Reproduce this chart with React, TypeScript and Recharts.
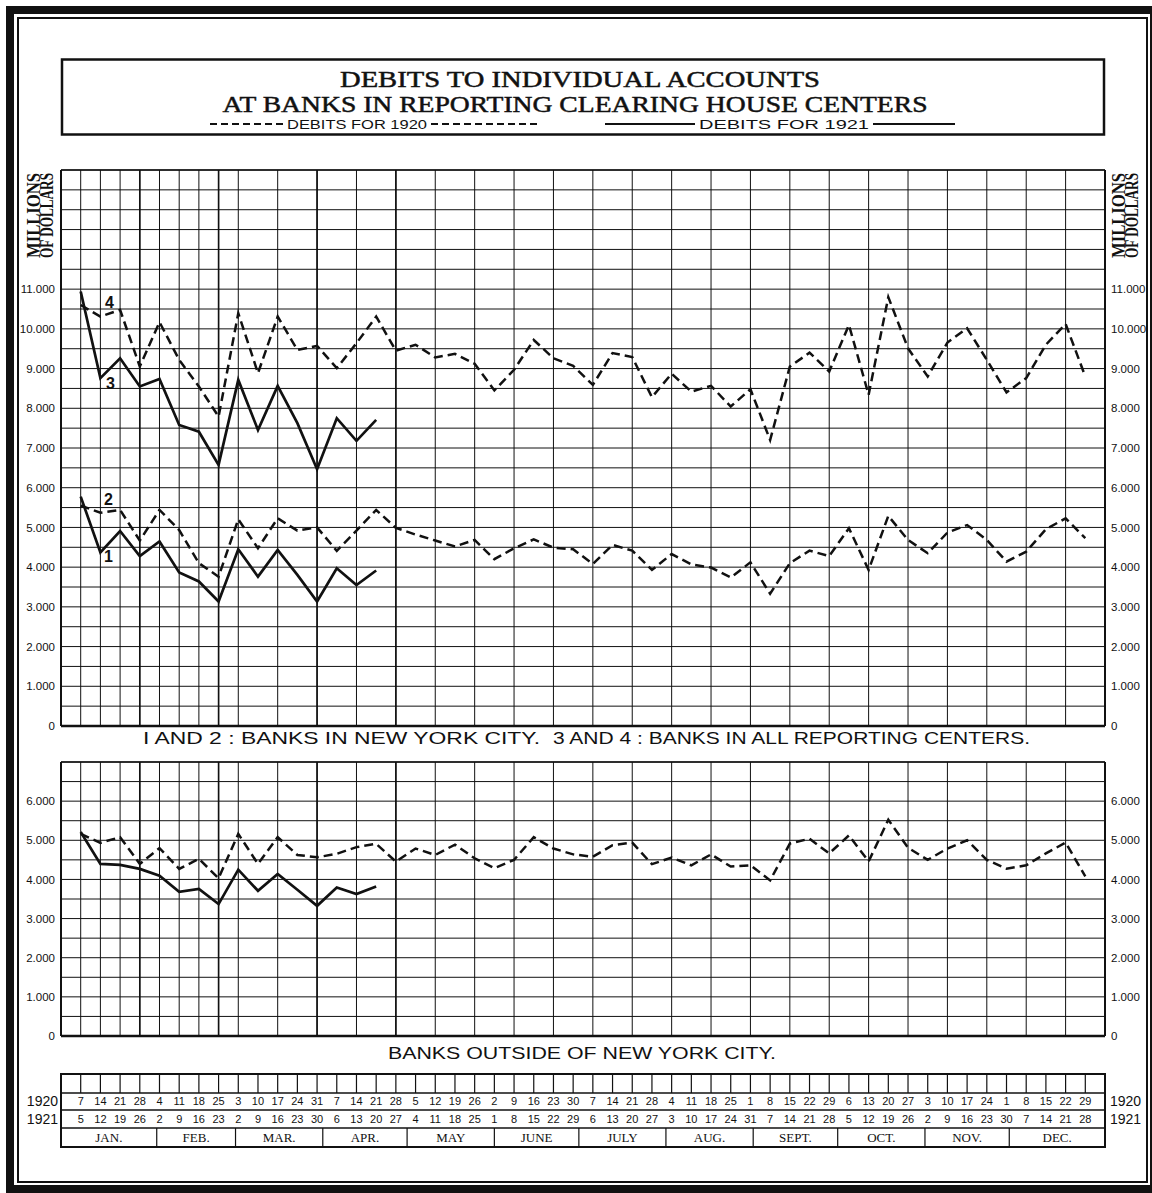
import React from "react";
import { LineChart, Line, XAxis, YAxis, CartesianGrid, ReferenceLine } from "recharts";

// week slots along the x axis (slot 1 = first week of January)
const weeks = [
  1, 2, 3, 4, 5, 6, 7, 8, 9, 10, 11, 12, 13, 14, 15, 16, 17, 18, 19, 20, 21, 22, 23, 24, 25, 26,
  27, 28, 29, 30, 31, 32, 33, 34, 35, 36, 37, 38, 39, 40, 41, 42, 43, 44, 45, 46, 47, 48, 49, 50, 51, 52,
];

const dates1920 = [
  7, 14, 21, 28, 4, 11, 18, 25, 3, 10, 17, 24, 31, 7, 14, 21, 28, 5, 12, 19, 26, 2, 9, 16, 23, 30,
  7, 14, 21, 28, 4, 11, 18, 25, 1, 8, 15, 22, 29, 6, 13, 20, 27, 3, 10, 17, 24, 1, 8, 15, 22, 29,
];
const dates1921 = [
  5, 12, 19, 26, 2, 9, 16, 23, 2, 9, 16, 23, 30, 6, 13, 20, 27, 4, 11, 18, 25, 1, 8, 15, 22, 29,
  6, 13, 20, 27, 3, 10, 17, 24, 31, 7, 14, 21, 28, 5, 12, 19, 26, 2, 9, 16, 23, 30, 7, 14, 21, 28,
];
const months = ["JAN.", "FEB.", "MAR.", "APR.", "MAY", "JUNE", "JULY", "AUG.", "SEPT.", "OCT.", "NOV.", "DEC."];

// debits, millions of dollars
// 4: all reporting centers 1920 / 3: all reporting centers 1921
const allCenters1920 = [
  10600, 10310, 10480, 9050, 10170, 9220, 8550, 7790, 10395, 8885, 10310, 9470, 9570, 9010, 9640, 10310,
  9450, 9600, 9280, 9370, 9120, 8450, 8970, 9720, 9260, 9070, 8590, 9390, 9290, 8280, 8870, 8420,
  8565, 8045, 8480, 7200, 9050, 9400, 8925, 10100, 8340, 10800, 9510, 8800, 9655, 10015, 9220, 8400,
  8760, 9600, 10125, 8800,
];
const allCenters1921 = [
  10940, 8760, 9260, 8550, 8740, 7580, 7410, 6575, 8715, 7455, 8565, 7625, 6465, 7750, 7180, 7710,
];
// 2: New York City 1920 / 1: New York City 1921
const newYork1920 = [
  5550, 5370, 5440, 4670, 5440, 4935, 4100, 3760, 5205, 4475, 5230, 4920, 5000, 4410, 4920, 5440,
  4990, 4820, 4670, 4520, 4685, 4200, 4475, 4700, 4490, 4450, 4080, 4560, 4415, 3930, 4330, 4070,
  3990, 3740, 4120, 3330, 4100, 4415, 4280, 4980, 3930, 5290, 4685, 4350, 4870, 5060, 4685, 4140,
  4390, 4955, 5230, 4730,
];
const newYork1921 = [
  5775, 4370, 4910, 4280, 4645, 3865, 3640, 3135, 4450, 3760, 4435, 3805, 3135, 3970, 3550, 3915,
];
// banks outside of New York City
const outside1920 = [
  5165, 4935, 5080, 4395, 4800, 4270, 4525, 4030, 5165, 4395, 5080, 4625, 4565, 4655, 4825, 4910,
  4455, 4790, 4625, 4890, 4540, 4290, 4500, 5080, 4790, 4640, 4580, 4875, 4940, 4390, 4560, 4360,
  4640, 4330, 4360, 3975, 4915, 5040, 4665, 5125, 4460, 5525, 4810, 4500, 4790, 5000, 4500, 4275,
  4360, 4665, 4940, 4080,
];
const outside1921 = [
  5210, 4395, 4370, 4270, 4095, 3685, 3755, 3370, 4250, 3710, 4140, 3735, 3325, 3795, 3625, 3820,
];

const upperLabelValues = [0, 1000, 2000, 3000, 4000, 5000, 6000, 7000, 8000, 9000, 10000, 11000];
const upperLabelText = ["0", "1.000", "2.000", "3.000", "4.000", "5.000", "6.000", "7.000", "8.000", "9.000", "10.000", "11.000"];
const lowerLabelValues = [0, 1000, 2000, 3000, 4000, 5000, 6000];
const lowerLabelText = ["0", "1.000", "2.000", "3.000", "4.000", "5.000", "6.000"];

// ---- layout / style ----
const INK = "#111";
const SANS = "'Liberation Sans', Arial, sans-serif";
const SERIF = "'Liberation Serif', 'Times New Roman', serif";

const gridWeeks = Array.from({ length: 54 }, (_, i) => i);
const upperGrid = Array.from({ length: 29 }, (_, i) => i * 500);
const lowerGrid = Array.from({ length: 15 }, (_, i) => i * 500);
const heavyWeeks = [4, 8, 13, 17];
// month borders in the calendar strip, in week slots
const monthEdges = [0, 4.86, 8.86, 13.29, 17.57, 22, 26.29, 30.71, 35.14, 39.43, 43.86, 48.14, 53];
const monthMids = months.map((_, i) => (monthEdges[i] + monthEdges[i + 1]) / 2);
const tableTicks = Array.from(new Set([...weeks, ...monthEdges, ...monthMids])).sort((a, b) => a - b);

const upperLabels = new Map(upperLabelValues.map((v, i) => [v, upperLabelText[i]]));
const lowerLabels = new Map(lowerLabelValues.map((v, i) => [v, lowerLabelText[i]]));

const upperData = weeks.map((w, i) => ({
  week: w,
  all1920: allCenters1920[i],
  all1921: allCenters1921[i],
  ny1920: newYork1920[i],
  ny1921: newYork1921[i],
}));
const lowerData = weeks.map((w, i) => ({
  week: w,
  out1920: outside1920[i],
  out1921: outside1921[i],
}));

const YTick = ({ x, y, payload, labels, anchor }: any) => {
  const text = labels.get(payload.value);
  if (text === undefined) return <g />;
  return (
    <text x={x} y={y} dy="0.36em" textAnchor={anchor} fontFamily={SANS} fontSize={11.5} fill={INK}>
      {text}
    </text>
  );
};

const TableTick = ({ x, y, payload }: any) => {
  const v = payload.value;
  const parts: React.ReactNode[] = [];
  const wi = weeks.indexOf(v);
  if (wi >= 0) {
    parts.push(<line key="d" x1={x} x2={x} y1={y + 38} y2={y + 57} stroke={INK} strokeWidth={1.2} />);
    parts.push(
      <text key="a" x={x} y={y + 69} textAnchor="middle" fontFamily={SANS} fontSize={11} fill={INK}>
        {dates1920[wi]}
      </text>
    );
    parts.push(
      <text key="b" x={x} y={y + 87} textAnchor="middle" fontFamily={SANS} fontSize={11} fill={INK}>
        {dates1921[wi]}
      </text>
    );
  }
  const ei = monthEdges.indexOf(v);
  if (ei > 0 && ei < monthEdges.length - 1) {
    parts.push(<line key="e" x1={x} x2={x} y1={y + 92} y2={y + 111} stroke={INK} strokeWidth={1.2} />);
  }
  const mi = monthMids.indexOf(v);
  if (mi >= 0) {
    parts.push(
      <text key="m" x={x} y={y + 106} textAnchor="middle" fontFamily={SERIF} fontSize={13} fill={INK}>
        {months[mi]}
      </text>
    );
  }
  return <g>{parts}</g>;
};

const tagDot = (tag: string, dx: number, dy: number) => (p: any) => {
  if (p.index !== 1) return <g key={`${tag}-${p.index}`} />;
  return (
    <text
      key={`${tag}-${p.index}`}
      x={p.cx + dx}
      y={p.cy + dy}
      textAnchor="middle"
      fontFamily={SANS}
      fontWeight="bold"
      fontSize={16}
      fill={INK}
    >
      {tag}
    </text>
  );
};

const frameLines = (top: number) => [
  <ReferenceLine key="l" xAxisId="g" yAxisId="l" x={0} stroke={INK} strokeWidth={2} />,
  <ReferenceLine key="r" xAxisId="g" yAxisId="l" x={53} stroke={INK} strokeWidth={2} />,
  <ReferenceLine key="b" xAxisId="g" yAxisId="l" y={0} stroke={INK} strokeWidth={2.5} />,
  <ReferenceLine key="t" xAxisId="g" yAxisId="l" y={top} stroke={INK} strokeWidth={1.5} />,
  ...heavyWeeks.map((w) => (
    <ReferenceLine key={`m${w}`} xAxisId="g" yAxisId="l" x={w} stroke={INK} strokeWidth={1.6} />
  )),
];

const dashedLine = { stroke: INK, strokeWidth: 2.5, strokeDasharray: "9 5" };
const solidLine = { stroke: INK, strokeWidth: 2.7 };

const Overlay = () => (
  <svg width={1152} height={1193} style={{ position: "absolute", left: 0, top: 0 }}>
    <rect x={10} y={10} width={1144} height={1179} fill="none" stroke={INK} strokeWidth={8} />
    <rect x={18} y={18} width={1129} height={1164} fill="none" stroke={INK} strokeWidth={2} />

    <rect x={62} y={59.5} width={1042} height={75} fill="none" stroke={INK} strokeWidth={2.5} />
    <text x={580} y={87} textAnchor="middle" fontFamily={SERIF} fontSize={24} stroke={INK} strokeWidth={0.5} textLength={480} lengthAdjust="spacingAndGlyphs" fill={INK}>
      DEBITS TO INDIVIDUAL ACCOUNTS
    </text>
    <text x={575} y={112} textAnchor="middle" fontFamily={SERIF} fontSize={24} stroke={INK} strokeWidth={0.5} textLength={705} lengthAdjust="spacingAndGlyphs" fill={INK}>
      AT BANKS IN REPORTING CLEARING HOUSE CENTERS
    </text>
    <line x1={210} x2={283} y1={124} y2={124} stroke={INK} strokeWidth={2} strokeDasharray="7 4" />
    <text x={287} y={129} fontFamily={SANS} fontSize={12.5} textLength={140} lengthAdjust="spacingAndGlyphs" fill={INK}>
      DEBITS FOR 1920
    </text>
    <line x1={431} x2={540} y1={124} y2={124} stroke={INK} strokeWidth={2} strokeDasharray="7 4" />
    <line x1={605} x2={695} y1={124} y2={124} stroke={INK} strokeWidth={2} />
    <text x={699} y={129} fontFamily={SANS} fontSize={12.5} textLength={170} lengthAdjust="spacingAndGlyphs" fill={INK}>
      DEBITS FOR 1921
    </text>
    <line x1={873} x2={955} y1={124} y2={124} stroke={INK} strokeWidth={2} />

    {[
      [40, "MILLIONS"],
      [53, "OF DOLLARS"],
      [1125, "MILLIONS"],
      [1138, "OF DOLLARS"],
    ].map(([x, t]) => (
      <text
        key={`${x}`}
        transform={`translate(${x},215.5) rotate(-90)`}
        textAnchor="middle"
        fontFamily={SERIF}
        fontWeight="bold"
        fontSize={18}
        textLength={85}
        lengthAdjust="spacingAndGlyphs"
        fill={INK}
      >
        {t}
      </text>
    ))}

    <text x={143} y={744} fontFamily={SANS} fontSize={17} textLength={397} lengthAdjust="spacingAndGlyphs" fill={INK}>
      I AND 2 : BANKS IN NEW YORK CITY.
    </text>
    <text x={553} y={744} fontFamily={SANS} fontSize={17} textLength={477} lengthAdjust="spacingAndGlyphs" fill={INK}>
      3 AND 4 : BANKS IN ALL REPORTING CENTERS.
    </text>
    <text x={388} y={1059} fontFamily={SANS} fontSize={17} textLength={388} lengthAdjust="spacingAndGlyphs" fill={INK}>
      BANKS OUTSIDE OF NEW YORK CITY.
    </text>

    <rect x={61} y={1074} width={1044} height={73} fill="none" stroke={INK} strokeWidth={2} />
    {[1093, 1110, 1128].map((y) => (
      <line key={y} x1={61} x2={1105} y1={y} y2={y} stroke={INK} strokeWidth={1.3} />
    ))}
    <text x={58} y={1106} textAnchor="end" fontFamily={SANS} fontSize={14} fill={INK}>1920</text>
    <text x={58} y={1124} textAnchor="end" fontFamily={SANS} fontSize={14} fill={INK}>1921</text>
    <text x={1110} y={1106} fontFamily={SANS} fontSize={14} fill={INK}>1920</text>
    <text x={1110} y={1124} fontFamily={SANS} fontSize={14} fill={INK}>1921</text>
  </svg>
);

export default function App() {
  return (
    <div style={{ position: "absolute", left: 0, top: 0, width: 1152, height: 1193, background: "#fff", overflow: "hidden" }}>
      <Overlay />

      <div style={{ position: "absolute", left: 0, top: 150 }}>
        <LineChart width={1152} height={590} data={upperData} margin={{ top: 20, right: 0, bottom: 14, left: 0 }}>
          <XAxis xAxisId="g" type="number" dataKey="week" domain={[0, 53]} ticks={gridWeeks} allowDataOverflow hide height={0} />
          <YAxis
            yAxisId="l"
            width={61}
            domain={[0, 14000]}
            ticks={upperGrid}
            interval={0}
            allowDataOverflow
            axisLine={false}
            tickLine={false}
            tickSize={0}
            tickMargin={6}
            tick={(p: any) => <YTick {...p} labels={upperLabels} anchor="end" />}
          />
          <YAxis
            yAxisId="r"
            orientation="right"
            width={47}
            domain={[0, 14000]}
            ticks={upperGrid}
            interval={0}
            allowDataOverflow
            axisLine={false}
            tickLine={false}
            tickSize={0}
            tickMargin={6}
            tick={(p: any) => <YTick {...p} labels={upperLabels} anchor="start" />}
          />
          <CartesianGrid xAxisId="g" yAxisId="l" stroke={INK} strokeWidth={1} />
          {frameLines(14000)}
          <Line xAxisId="g" yAxisId="l" type="linear" dataKey="all1920" {...dashedLine} dot={tagDot("4", 9, -9)} activeDot={false} isAnimationActive={false} />
          <Line xAxisId="g" yAxisId="l" type="linear" dataKey="all1921" {...solidLine} dot={tagDot("3", 10, 11)} activeDot={false} isAnimationActive={false} />
          <Line xAxisId="g" yAxisId="l" type="linear" dataKey="ny1920" {...dashedLine} dot={tagDot("2", 8, -8)} activeDot={false} isAnimationActive={false} />
          <Line xAxisId="g" yAxisId="l" type="linear" dataKey="ny1921" {...solidLine} dot={tagDot("1", 8, 10)} activeDot={false} isAnimationActive={false} />
        </LineChart>
      </div>

      <div style={{ position: "absolute", left: 0, top: 742 }}>
        <LineChart width={1152} height={409} data={lowerData} margin={{ top: 20, right: 0, bottom: 0, left: 0 }}>
          <XAxis
            xAxisId="t"
            type="number"
            dataKey="week"
            domain={[0, 53]}
            ticks={tableTicks}
            interval={0}
            allowDataOverflow
            height={115}
            axisLine={false}
            tickLine={false}
            tickSize={0}
            tickMargin={0}
            tick={(p: any) => <TableTick {...p} />}
          />
          <XAxis xAxisId="g" type="number" dataKey="week" domain={[0, 53]} ticks={gridWeeks} allowDataOverflow hide height={0} />
          <YAxis
            yAxisId="l"
            width={61}
            domain={[0, 7000]}
            ticks={lowerGrid}
            interval={0}
            allowDataOverflow
            axisLine={false}
            tickLine={false}
            tickSize={0}
            tickMargin={6}
            tick={(p: any) => <YTick {...p} labels={lowerLabels} anchor="end" />}
          />
          <YAxis
            yAxisId="r"
            orientation="right"
            width={47}
            domain={[0, 7000]}
            ticks={lowerGrid}
            interval={0}
            allowDataOverflow
            axisLine={false}
            tickLine={false}
            tickSize={0}
            tickMargin={6}
            tick={(p: any) => <YTick {...p} labels={lowerLabels} anchor="start" />}
          />
          <CartesianGrid xAxisId="g" yAxisId="l" stroke={INK} strokeWidth={1} />
          {frameLines(7000)}
          <Line xAxisId="g" yAxisId="l" type="linear" dataKey="out1920" {...dashedLine} dot={false} activeDot={false} isAnimationActive={false} />
          <Line xAxisId="g" yAxisId="l" type="linear" dataKey="out1921" {...solidLine} dot={false} activeDot={false} isAnimationActive={false} />
        </LineChart>
      </div>
    </div>
  );
}
